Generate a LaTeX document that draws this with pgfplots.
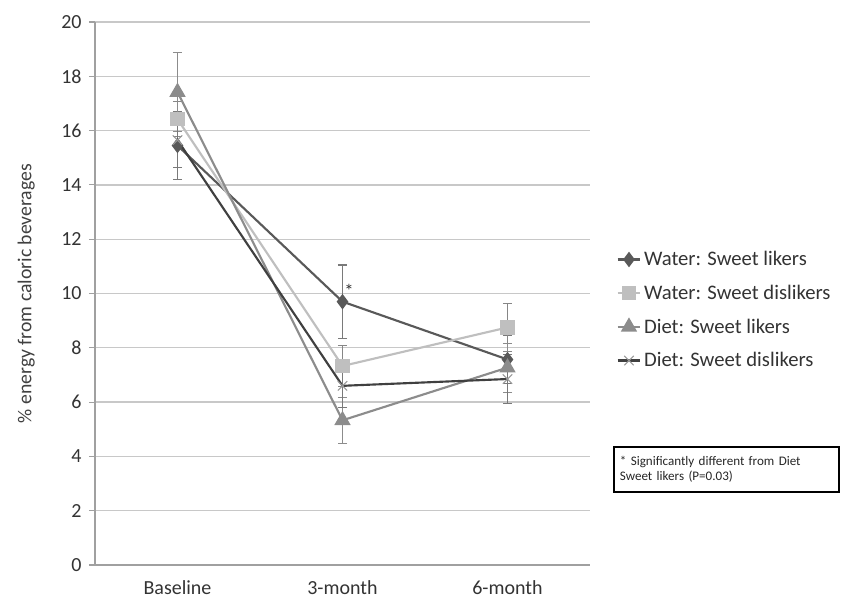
\documentclass[border=0pt]{standalone}
\usepackage{pgfplots}
\pgfplotsset{compat=1.18}
\usepackage{fontspec}
\setmainfont{Carlito}
\definecolor{cA}{HTML}{595959}
\definecolor{cB}{HTML}{BFBFBF}
\definecolor{cC}{HTML}{8C8C8C}
\definecolor{cD}{HTML}{404040}
\definecolor{gridc}{HTML}{C8C8C8}
\begin{document}
\begin{tikzpicture}
\useasboundingbox (0pt,0pt) rectangle (632.25pt,450pt);
\begin{axis}[
  at={(71.25pt,26.25pt)}, anchor=south west,
  scale only axis,
  width=371.25pt, height=407.25pt,
  xmin=-0.5, xmax=2.5, ymin=0, ymax=20,
  xtick={0,1,2}, xticklabels={Baseline,3-month,6-month},
  extra x ticks={-0.5,0.5,1.5,2.5}, extra x tick labels={},
  extra x tick style={major tick length=6pt, tick style={gridc!80!black, line width=0.8pt}, grid=none},
  ytick={0,2,...,20},
  ymajorgrids, grid style={gridc, line width=1pt},
  axis x line*=bottom, axis y line*=left,
  axis line style={gridc!80!black, line width=0.8pt, -},
  xtick style={draw=none},
  ytick style={gridc!80!black, line width=0.8pt},
  tick align=outside, major tick length=4.5pt,
  tick label style={font=\fontsize{15}{17}\selectfont, text=black!80},
  /pgf/number format/assume math mode=true,
  yticklabel style={xshift=-2pt},
  xticklabel style={yshift=-4pt},
  ylabel={\% energy from caloric beverages},
  ylabel style={font=\fontsize{14.8}{17}\selectfont, text=black!75, yshift=13pt},
  clip=false,
  legend style={at={(1.045,0.588)}, anchor=north west, draw=none, fill=none,
    font=\fontsize{15.5}{18}\selectfont, row sep=9pt, text=black!80},
  legend cell align=left,
  every axis plot/.append style={line width=1.6pt},
  error bars/error bar style={line width=0.8pt},
  error bars/error mark options={rotate=90, mark size=3.5pt, line width=0.8pt},
]
\addplot[color=cA, mark=diamond*, mark size=4.5pt, mark options={fill=cA},
  error bars/.cd, y dir=both, y explicit, error bar style={color=cA!80}]
  coordinates {(0,15.45) +- (0,1.25) (1,9.7) +- (0,1.35) (2,7.57) +- (0,0.9)};
\addlegendentry{Water: Sweet likers}
\addplot[color=cB, mark=square*, mark size=4.5pt, mark options={fill=cB},
  error bars/.cd, y dir=both, y explicit, error bar style={color=cB!70!black}]
  coordinates {(0,16.42) +- (0,0.65) (1,7.33) +- (0,0.75) (2,8.75) +- (0,0.88)};
\addlegendentry{Water: Sweet dislikers}
\addplot[color=cC, mark=triangle*, mark size=5.5pt, mark options={fill=cC},
  error bars/.cd, y dir=both, y explicit, error bar style={color=cC}]
  coordinates {(0,17.42) +- (0,1.45) (1,5.33) +- (0,0.85) (2,7.27) +- (0,0.9)};
\addlegendentry{Diet: Sweet likers}
\addplot[color=cD, mark=x, mark size=5pt, mark options={color=cB!80!black, line width=0.8pt},
  error bars/.cd, y dir=both, y explicit, error bar style={color=cD!70}]
  coordinates {(0,15.65) +- (0,1.0) (1,6.6) +- (0,0.8) (2,6.85) +- (0,0.9)};
\addlegendentry{Diet: Sweet dislikers}
\node[font=\fontsize{14}{14}\selectfont, text=black!80] at (axis cs:1.04,10.1) {*};
\end{axis}
\node[draw=black, line width=1.6pt, anchor=north west, minimum width=168.75pt, minimum height=33.75pt,
  text width=160pt, align=left, inner sep=4pt, font=\fontsize{9.8}{11.5}\selectfont, text=black!85]
  at (459.75pt,115.5pt) {* Significantly different from Diet\\Sweet likers (P=0.03)};
\end{tikzpicture}
\end{document}
